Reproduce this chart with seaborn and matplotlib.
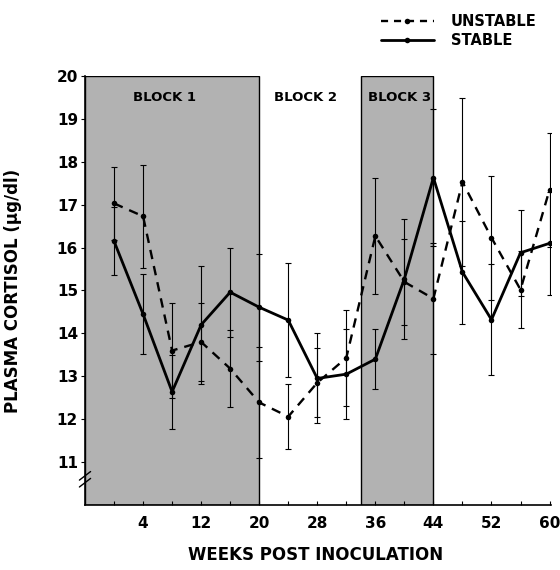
import numpy as np
import pandas as pd
import matplotlib
matplotlib.use("Agg")
import matplotlib.pyplot as plt
from matplotlib.lines import Line2D
from matplotlib.ticker import FixedLocator
import seaborn as sns

sns.set_style('white')
plt.rcParams['font.family'] = ['DejaVu Sans']
plt.rcParams['font.weight'] = 'bold'
plt.rcParams['text.color'] = 'black'
plt.rcParams['axes.labelcolor'] = 'black'
plt.rcParams['xtick.color'] = 'black'
plt.rcParams['ytick.color'] = 'black'

# weeks post inoculation
weeks = [0, 4, 8, 12, 16, 20, 24, 28, 32, 36, 40, 44, 48, 52, 56, 60]

# plasma cortisol (ug/dl)
stable = [16.15, 14.45, 12.64, 14.2, 14.96, 14.61, 14.31, 12.95, 13.05, 13.4,
          15.27, 17.63, 15.43, 14.32, 15.88, 16.1]
stable_err = [0.8, 0.93, 0.86, 1.37, 1.04, 1.25, 1.32, 1.05, 1.05, 0.7,
              1.4, 1.6, 1.2, 1.3, 1.0, 1.2]
unstable = [17.03, 16.73, 13.6, 13.8, 13.18, 12.39, 12.06, 12.85, 13.43, 16.27,
            15.2, 14.81, 17.53, 16.23, 15.02, 17.35]
unstable_err = [0.85, 1.2, 1.1, 0.9, 0.9, 1.29, 0.75, 0.8, 1.12, 1.35,
                1.0, 1.3, 1.96, 1.44, 0.9, 1.33]

# shaded blocks (start week, end week) and labels
blocks = [(-4, 20), (34, 44)]
block_labels = ['BLOCK 1', 'BLOCK 2', 'BLOCK 3']
block_label_x = [6.9, 26.4, 39.3]

df_stable = pd.DataFrame({'week': weeks, 'cortisol': stable, 'err': stable_err})
df_unstable = pd.DataFrame({'week': weeks, 'cortisol': unstable, 'err': unstable_err})

fig = plt.figure(figsize=(5.6, 5.7), dpi=100)
ax = fig.add_axes([85/560, 1 - 505/570, 466/560, 429/570])

for x0, x1 in blocks:
    ax.axvspan(x0, x1, ymin=0, ymax=1, facecolor='#b2b2b2', edgecolor='black',
               linewidth=1.0, zorder=0)

for lbl, bx in zip(block_labels, block_label_x):
    ax.text(bx, 19.5, lbl, ha='center', va='center', fontsize=9.5,
            fontweight='bold', color='black', zorder=5)

# error bars
ax.errorbar(df_unstable['week'], df_unstable['cortisol'], df_unstable['err'],
            fmt='none', ecolor='black', elinewidth=0.8, capsize=2.5, capthick=0.8, zorder=2)
ax.errorbar(df_stable['week'], df_stable['cortisol'], df_stable['err'],
            fmt='none', ecolor='black', elinewidth=0.8, capsize=2.5, capthick=0.8, zorder=2)

sns.lineplot(data=df_unstable, x='week', y='cortisol', ax=ax, color='black',
             linestyle=(0, (4, 3)), linewidth=1.7, marker='o', markersize=4,
             markeredgewidth=0, zorder=3)
sns.lineplot(data=df_stable, x='week', y='cortisol', ax=ax, color='black',
             linestyle='-', linewidth=2.0, marker='o', markersize=4,
             markeredgewidth=0, zorder=3)

ax.set_xlim(-4, 60.2)
ax.set_ylim(10, 20)
ax.xaxis.set_major_locator(FixedLocator([4, 12, 20, 28, 36, 44, 52, 60]))
ax.xaxis.set_minor_locator(FixedLocator([0, 8, 16, 24, 32, 40, 48, 56]))
ax.yaxis.set_major_locator(FixedLocator(list(range(11, 21))))
ax.tick_params(axis='x', which='both', direction='in', length=3, width=0.8,
               labelsize=11, pad=8, bottom=True)
ax.tick_params(axis='y', which='major', direction='out', length=3, width=0.8,
               labelsize=11, pad=2, left=True)
for lab in ax.get_xticklabels() + ax.get_yticklabels():
    lab.set_fontweight('bold')

for side in ['top', 'right']:
    ax.spines[side].set_visible(False)
for side in ['left', 'bottom']:
    ax.spines[side].set_linewidth(1.2)
    ax.spines[side].set_color('black')

ax.set_xlabel('WEEKS POST INOCULATION', fontsize=12, fontweight='bold')
ax.set_ylabel('PLASMA CORTISOL (\u03bcg/dl)', fontsize=12, fontweight='bold')
ax.xaxis.set_label_coords(0.495, -0.095)
ax.yaxis.set_label_coords(-0.135, 0.5)

# axis break marks
for dy in [0.0, 0.016]:
    ax.plot([-0.012, 0.012], [0.042 + dy, 0.062 + dy], transform=ax.transAxes,
            color='black', linewidth=1.0, clip_on=False, zorder=6)

handles = [
    Line2D([], [], color='black', linestyle=(0, (3, 2.5)), linewidth=1.7,
           marker='o', markersize=4, markeredgewidth=0),
    Line2D([], [], color='black', linestyle='-', linewidth=2.0,
           marker='o', markersize=4, markeredgewidth=0),
]
fig.legend(handles, ['UNSTABLE', 'STABLE'], loc='upper right',
           bbox_to_anchor=(550/560, 1 - 1/570), frameon=False, numpoints=1,
           handlelength=3.6, handletextpad=1.2, labelspacing=0.3,
           prop={'weight': 'bold', 'size': 10.5})

plt.savefig('out.png', dpi=100)
